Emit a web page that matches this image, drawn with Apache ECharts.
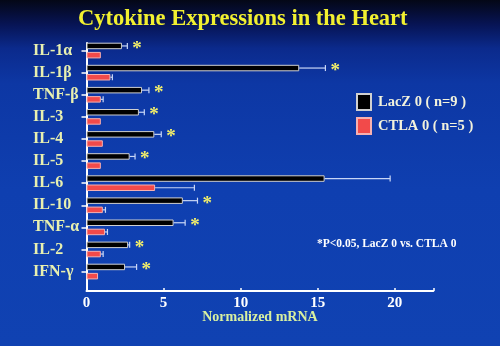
<!DOCTYPE html>
<html>
<head>
<meta charset="utf-8">
<script src="https://cdn.jsdelivr.net/npm/echarts@6/dist/echarts.min.js"></script>
<style>
html,body{margin:0;padding:0;}
#chart{width:500px;height:346px;
background:linear-gradient(180deg,#040716 0%,#071454 7%,#0b2a8c 14%,#0d37a4 24%,#0f3fb0 55%,#1042b2 100%);}
</style>
</head>
<body>
<div id="chart"></div>
<script>
const categories = ['IL-1α','IL-1β','TNF-β','IL-3','IL-4','IL-5','IL-6','IL-10','TNF-α','IL-2','IFN-γ'];
const laczValues = [2.3, 13.8, 3.6, 3.4, 4.4, 2.8, 15.45, 6.25, 5.65, 2.7, 2.5];
const laczErr    = [0.35, 1.7, 0.45, 0.35, 0.45, 0.35, 4.25, 0.95, 0.75, 0.1, 0.75];
const ctlaValues = [0.93, 1.55, 0.93, 0.93, 1.06, 0.93, 4.45, 1.06, 1.2, 0.93, 0.75];
const ctlaErr    = [0, 0.13, 0.15, 0, 0, 0, 2.55, 0.17, 0.16, 0.15, 0];
const significant = [1, 1, 1, 1, 1, 1, 0, 1, 1, 1, 1];
const xTicks = [0, 5, 10, 15, 20];
const seriesNames = ['LacZ 0 ( n=9 )', 'CTLA 0 ( n=5 )'];

const SERIF = "'Liberation Serif','Times New Roman',serif";
const BAR_W = 6.5, BAR_GAP_PX = 2.7;
const OFF = (BAR_W + BAR_GAP_PX) / 2;

function errData(vals, errs, withSig) {
  return vals.map((v, i) => [v, i, v + errs[i], withSig ? significant[i] : 0]);
}
function makeRender(offset, color) {
  return function (params, api) {
    const yc = api.coord([0, api.value(1)])[1] + offset;
    const x0 = api.coord([api.value(0), 0])[0];
    const x1 = api.coord([api.value(2), 0])[0];
    const children = [];
    if (x1 - x0 > 0.8) {
      children.push({type: 'line', shape: {x1: x0, y1: yc, x2: x1, y2: yc},
        style: {stroke: color, lineWidth: 1.2}});
      children.push({type: 'line', shape: {x1: x1, y1: yc - 3, x2: x1, y2: yc + 3},
        style: {stroke: color, lineWidth: 1.2}});
    }
    if (api.value(3)) {
      children.push({type: 'text', style: {text: '*', x: Math.max(x1, x0) + 5, y: yc + 3,
        fill: '#f2ee6a', font: 'bold 19px ' + SERIF, textAlign: 'left', textVerticalAlign: 'middle'}});
    }
    return {type: 'group', children: children};
  };
}

const chart = echarts.init(document.getElementById('chart'), null, {renderer: 'canvas'});
chart.setOption({
  backgroundColor: 'transparent',
  animation: false,
  title: [
    {text: 'Cytokine Expressions in the Heart', left: 73, top: 3,
     textStyle: {color: '#f2f030', fontFamily: SERIF, fontWeight: 'bold', fontSize: 22.5}},
    {text: '*P<0.05, LacZ 0 vs. CTLA 0', left: 312, top: 233,
     textStyle: {color: '#ffffff', fontFamily: SERIF, fontWeight: 'bold', fontSize: 11.5}}
  ],
  legend: {
    data: seriesNames, orient: 'vertical', left: 351, top: 88, icon: 'rect',
    itemWidth: 14, itemHeight: 16, itemGap: 6,
    textStyle: {color: '#f2f2dc', fontFamily: SERIF, fontWeight: 'bold', fontSize: 14.5, padding: [0,0,0,2]}
  },
  grid: [
    {left: 86.5, right: 66.7, top: 39.5, bottom: 63.4},
    {left: 86.5, right: 66.7, top: 43, bottom: 55}
  ],
  xAxis: [
    {type: 'value', gridIndex: 0, min: 0, max: 22.5, show: false},
    {type: 'value', gridIndex: 1, min: 0, max: 22.5, interval: 5,
     axisLine: {show: true, lineStyle: {color: '#ffffff', width: 2}},
     axisTick: {show: true, inside: true, length: 3, lineStyle: {color: '#ffffff', width: 1.5}},
     splitLine: {show: false},
     axisLabel: {color: '#ffffff', fontFamily: SERIF, fontWeight: 'bold', fontSize: 15, margin: 5,
       formatter: v => (xTicks.indexOf(v) >= 0 ? String(v) : '')},
     name: 'Normalized mRNA', nameLocation: 'middle', nameGap: 19, nameMoveOverlap: false,
     nameTextStyle: {color: '#d8f0a0', fontFamily: SERIF, fontWeight: 'bold', fontSize: 14}}
  ],
  yAxis: [
    {type: 'category', gridIndex: 0, data: categories, inverse: true,
     axisLine: {show: false},
     axisTick: {show: true, alignWithLabel: true, length: 5, lineStyle: {color: '#ffffff', width: 1.5}},
     axisLabel: {color: '#e8f0b0', fontFamily: SERIF, fontWeight: 'bold', fontSize: 16,
       align: 'left', margin: 53.5}},
    {type: 'value', gridIndex: 1, min: 0, max: 1,
     axisLine: {show: true, lineStyle: {color: '#ffffff', width: 2}},
     axisTick: {show: false}, axisLabel: {show: false}, splitLine: {show: false}}
  ],
  series: [
    {name: seriesNames[0], type: 'bar', xAxisIndex: 0, yAxisIndex: 0, data: laczValues,
     barWidth: BAR_W, barGap: (BAR_GAP_PX / BAR_W * 100) + '%',
     itemStyle: {color: '#000000', borderColor: '#d0d0d0', borderWidth: 1}},
    {name: seriesNames[1], type: 'bar', xAxisIndex: 0, yAxisIndex: 0, data: ctlaValues,
     barWidth: BAR_W,
     itemStyle: {color: '#f24a4a', borderColor: '#f7b0b0', borderWidth: 1}},
    {type: 'custom', xAxisIndex: 0, yAxisIndex: 0, z: 5,
     renderItem: makeRender(-OFF, '#c8d6f6'), data: errData(laczValues, laczErr, true),
     encode: {x: [0, 2], y: 1}, silent: true},
    {type: 'custom', xAxisIndex: 0, yAxisIndex: 0, z: 5,
     renderItem: makeRender(OFF, '#c8d6f6'), data: errData(ctlaValues, ctlaErr, false),
     encode: {x: [0, 2], y: 1}, silent: true}
  ]
});
</script>
</body>
</html>
